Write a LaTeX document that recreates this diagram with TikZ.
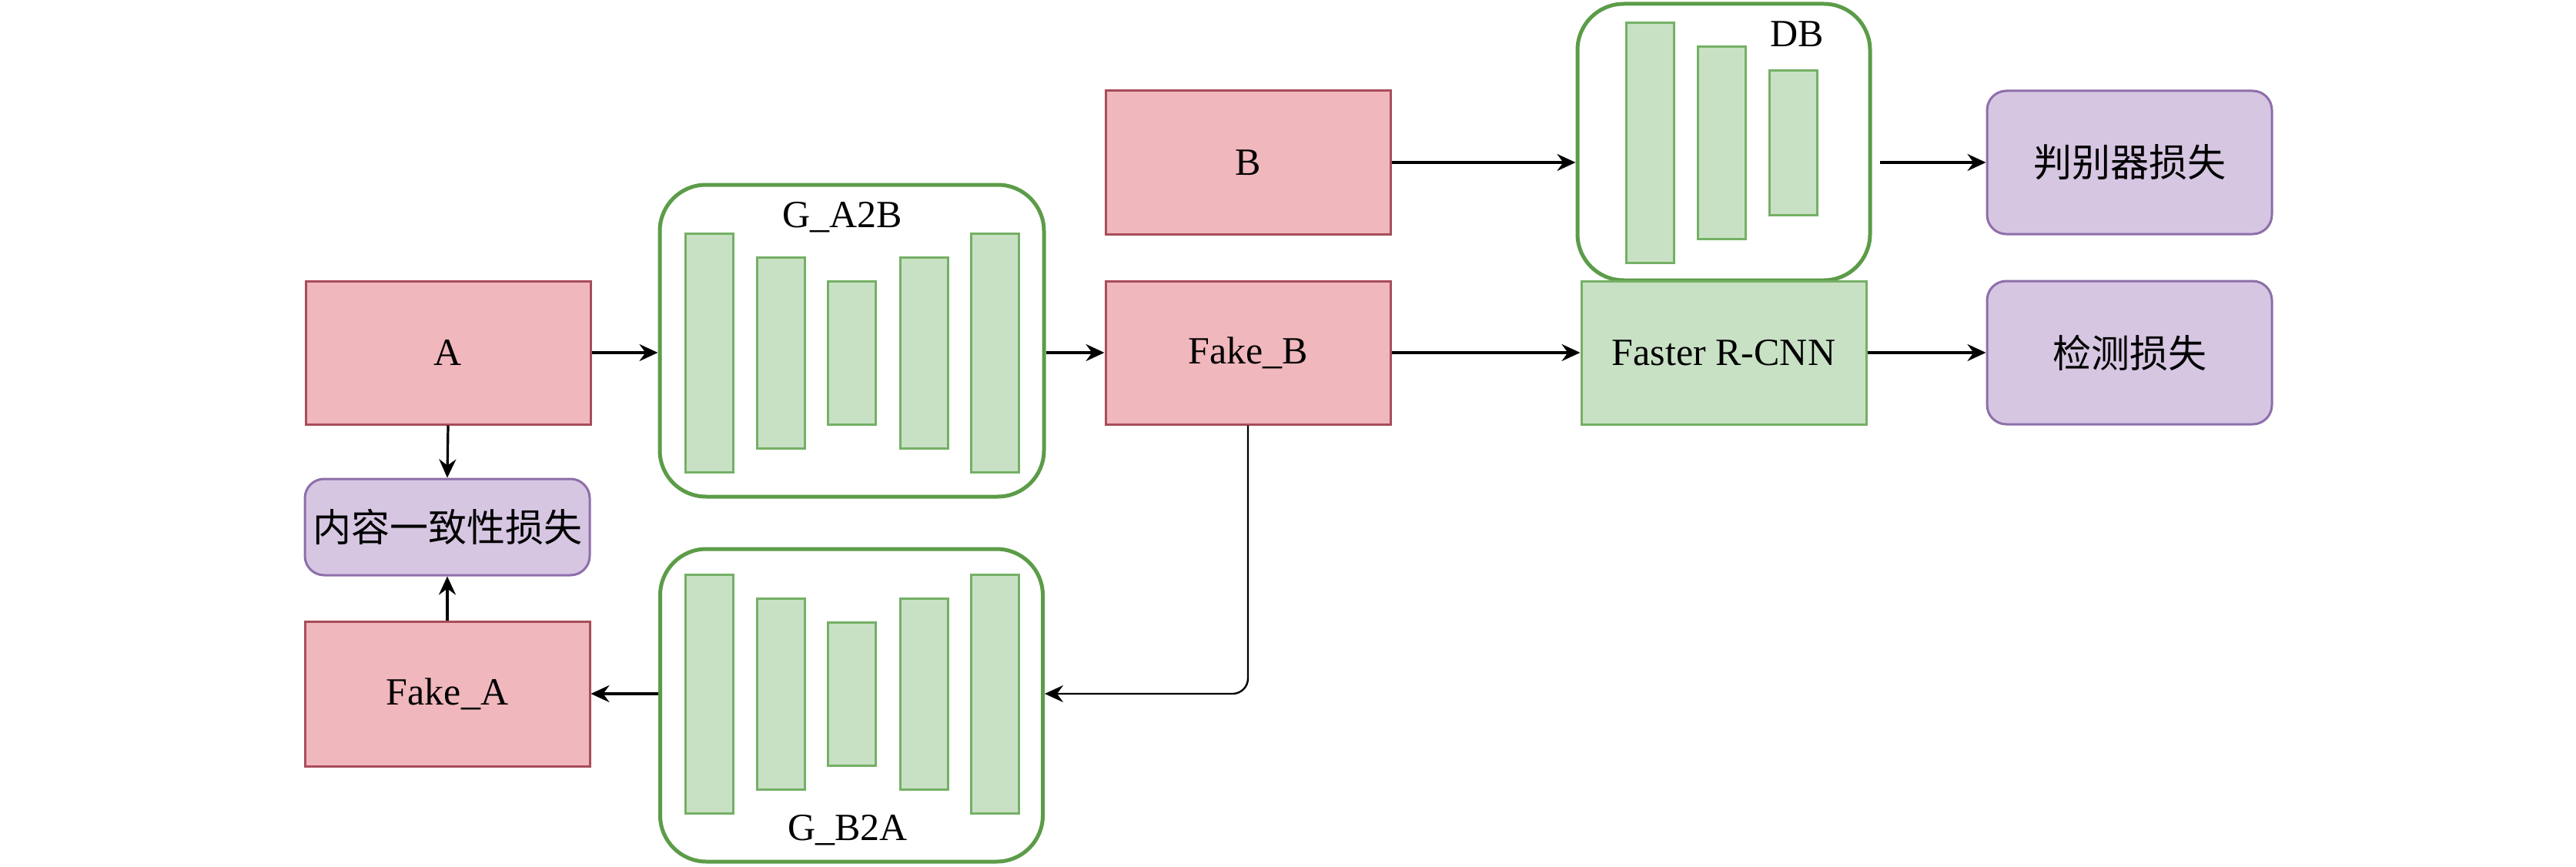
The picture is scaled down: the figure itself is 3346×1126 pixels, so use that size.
\documentclass[tikz,border=0pt]{standalone}
\usepackage{fontspec}
\setmainfont{Liberation Serif}
\newfontfamily\cjk{Noto Sans CJK SC}
\usetikzlibrary{arrows.meta}
\definecolor{pinkfill}{HTML}{F0B7BD}
\definecolor{pinkdraw}{HTML}{A84D5A}
\definecolor{greenfill}{HTML}{C8E1C5}
\definecolor{greendraw}{HTML}{74B065}
\definecolor{contdraw}{HTML}{5C9C48}
\definecolor{purplefill}{HTML}{D6C6E2}
\definecolor{purpledraw}{HTML}{8E6EAA}
\tikzset{
  boxtext/.style={font=\fontsize{50}{60}\selectfont},
  pinkbox/.style={boxtext, draw=pinkdraw, fill=pinkfill, line width=3pt, minimum width=370pt, minimum height=186pt, inner sep=0pt},
  greenbox/.style={boxtext, draw=greendraw, fill=greenfill, line width=3pt, minimum width=370pt, minimum height=186pt, inner sep=0pt},
  lossbox/.style={boxtext, draw=purpledraw, fill=purplefill, line width=3pt, minimum width=370pt, minimum height=186pt, rounded corners=25pt, inner sep=0pt},
  container/.style={draw=contdraw, fill=white, line width=5pt, rounded corners=60pt, inner sep=0pt},
  bar/.style={draw=greendraw, fill=greenfill, line width=3pt, minimum width=62pt, inner sep=0pt},
  lbl/.style={font=\fontsize{50}{60}\selectfont, inner sep=0pt},
  arr/.style={line width=3.2pt, -{Stealth[length=24pt,width=22pt,inset=8pt]}},
}
\begin{document}
\begin{tikzpicture}[x=1pt,y=-1pt]
\useasboundingbox (0,0) rectangle (3346,1126);
% containers
\node[container, minimum width=499pt, minimum height=405pt] (GA) at (1106.5,442.5) {};
\node[container, minimum width=497pt, minimum height=406pt] (GB) at (1106,916) {};
\node[container, minimum width=380pt, minimum height=359pt] (DB) at (2239,184.5) {};
% G_A2B bars
\node[bar, minimum height=310pt] (ga1) at (921,458) {};
\node[bar, minimum height=248pt] (ga2) at (1014,458) {};
\node[bar, minimum height=186pt] (ga3) at (1106.5,458) {};
\node[bar, minimum height=248pt] (ga4) at (1200,458) {};
\node[bar, minimum height=310pt] (ga5) at (1292,458) {};
\node[lbl] (galbl) at (1094,282) {G\_A2B};
% G_B2A bars
\node[bar, minimum height=310pt] (gb1) at (921,901) {};
\node[bar, minimum height=248pt] (gb2) at (1014,901) {};
\node[bar, minimum height=186pt] (gb3) at (1106.5,901) {};
\node[bar, minimum height=248pt] (gb4) at (1200,901) {};
\node[bar, minimum height=310pt] (gb5) at (1292,901) {};
\node[lbl] (gblbl) at (1101,1078) {G\_B2A};
% DB bars
\node[bar, minimum height=311pt] (db1) at (2143.5,185.5) {};
\node[bar, minimum height=249pt] (db2) at (2236.5,185.5) {};
\node[bar, minimum height=187pt] (db3) at (2329,185.5) {};
\node[lbl] (dblbl) at (2334,44) {DB};
% boxes
\node[pinkbox] (A) at (582,458) {A};
\node[lossbox, minimum height=125pt] (CL) at (581,684.5) {\cjk 内容一致性损失};
\node[pinkbox, minimum height=188pt] (FA) at (581,901) {Fake\_A};
\node[pinkbox] (FB) at (1621,458) {Fake\_B};
\node[pinkbox] (B) at (1621,211) {B};
\node[greenbox] (FR) at (2239,458) {Faster R-CNN};
\node[lossbox] (DL) at (2766,211) {\cjk 判别器损失};
\node[lossbox] (DetL) at (2766,458) {\cjk 检测损失};
% connectors
\draw[arr] (A.east) -- (GA.west |- A.east);
\draw[arr] (A.south) -- (CL.north);
\draw[arr] (FA.north) -- (CL.south);
\draw[arr] (GA.east |- FB.west) -- (FB.west);
\draw[arr] (GB.west |- FA.east) -- (FA.east);
\draw[arr, line width=2.4pt, rounded corners=20pt] (FB.south) |- (GB.east |- FA.east);
\draw[arr] (B.east) -- (DB.west |- B.east);
\draw[arr, shorten <=10pt] (DB.east |- DL.west) -- (DL.west);
\draw[arr] (FB.east) -- (FR.west);
\draw[arr] (FR.east) -- (DetL.west);
\end{tikzpicture}
\end{document}
